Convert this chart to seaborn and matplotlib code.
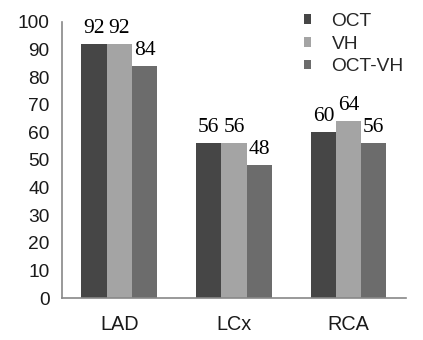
import matplotlib
matplotlib.use("Agg")
import matplotlib.pyplot as plt
import seaborn as sns
import pandas as pd

categories = ["LAD", "LCx", "RCA"]
series = ["OCT", "VH", "OCT-VH"]
oct_vals = [92, 56, 60]
vh_vals = [92, 56, 64]
octvh_vals = [84, 48, 56]
yticks = [0, 10, 20, 30, 40, 50, 60, 70, 80, 90, 100]

rows = []
for name, vals in zip(series, [oct_vals, vh_vals, octvh_vals]):
    for c, v in zip(categories, vals):
        rows.append({"cat": c, "series": name, "value": v})
df = pd.DataFrame(rows)

sns.set_style("white")
plt.rcParams["font.family"] = ["Liberation Sans", "DejaVu Sans"]

fig = plt.figure(figsize=(4.23, 3.40), dpi=100)
ax = fig.add_axes([0.1466, 0.1235, 0.813, 0.812])

palette = ["#464646", "#a4a4a4", "#6c6c6c"]
sns.barplot(data=df, x="cat", y="value", hue="series", order=categories,
            hue_order=series, palette=palette, width=0.66, saturation=1,
            edgecolor="none", linewidth=0, ax=ax)

for cont in ax.containers:
    ax.bar_label(cont, padding=4.5, fontsize=15.5, family="Liberation Serif",
                 color="#000000")

ax.set_ylim(0, 100)
ax.set_xlim(-0.5, 2.5)
ax.set_yticks(yticks)
ax.set_yticklabels([str(t) for t in yticks], fontsize=13.8, color="#1a1a1a")

ax.set_xticks([-0.5, 0.5, 1.5, 2.5])
ax.set_xticklabels([])
ax.set_xticks([0, 1, 2], minor=True)
ax.set_xticklabels(categories, minor=True, fontsize=14.3, color="#1a1a1a")
ax.tick_params(axis="x", which="minor", length=0, pad=12)
ax.tick_params(axis="x", which="major", length=5, width=1, color="#888888",
               direction="out")
ax.tick_params(axis="y", length=4, width=1, color="#888888", direction="out",
               pad=5)
ax.set_xlabel("")
ax.set_ylabel("")

for s in ["top", "right"]:
    ax.spines[s].set_visible(False)
for s in ["left", "bottom"]:
    ax.spines[s].set_color("#888888")
    ax.spines[s].set_linewidth(1.2)

handles, labels = ax.get_legend_handles_labels()
ax.legend(handles, labels, loc="upper left", bbox_to_anchor=(0.718, 0.962),
          bbox_transform=fig.transFigure, frameon=False, fontsize=13.8,
          handlelength=0.4, handleheight=0.4, handletextpad=1.05,
          labelspacing=0.3, borderaxespad=0, borderpad=0)

fig.savefig("out.png", dpi=100)
